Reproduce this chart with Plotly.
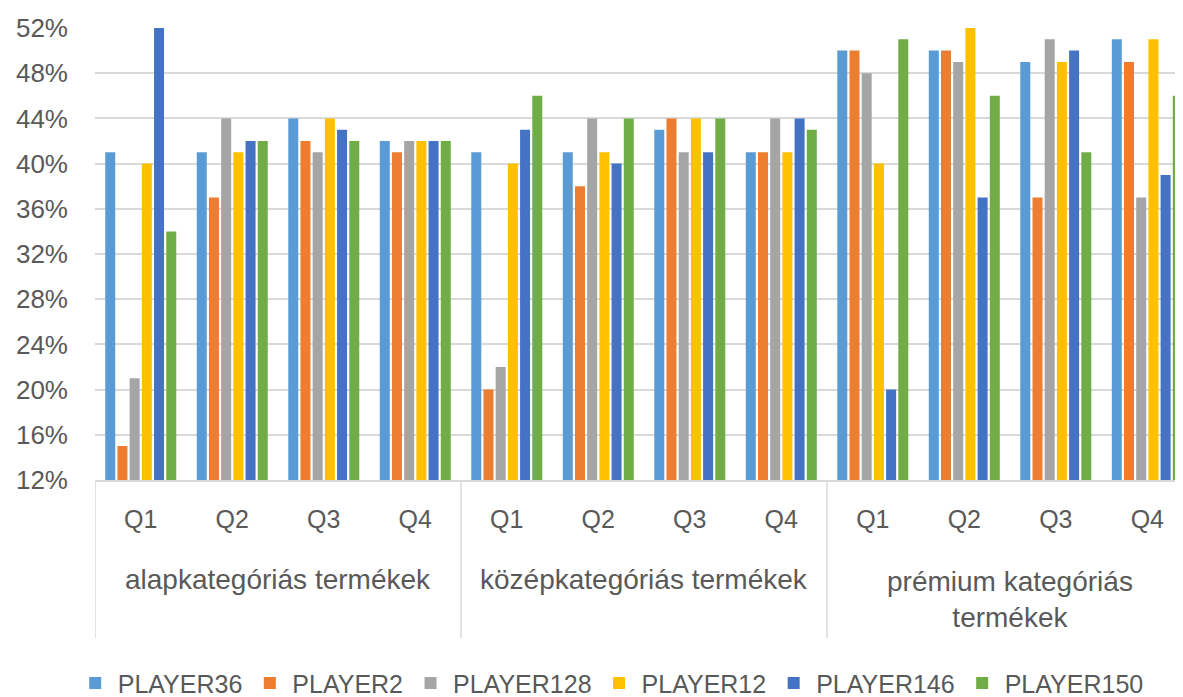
import plotly.graph_objects as go

# ---- data ----
groups = ["alapkategóriás termékek", "középkategóriás termékek", "prémium kategóriás<br>termékek"]
quarters = ["Q1", "Q2", "Q3", "Q4"]
players = ["PLAYER36", "PLAYER2", "PLAYER128", "PLAYER12", "PLAYER146", "PLAYER150"]
colors = ["#5B9BD5", "#ED7D31", "#A5A5A5", "#FFC000", "#4472C4", "#70AD47"]

# values in percent, order: alap Q1..Q4, közép Q1..Q4, prémium Q1..Q4
player36 = [41, 41, 44, 42, 41, 41, 43, 41, 50, 50, 49, 51]
player2 = [15, 37, 42, 41, 20, 38, 44, 41, 50, 50, 37, 49]
player128 = [21, 44, 41, 42, 22, 44, 41, 44, 48, 49, 51, 37]
player12 = [40, 41, 44, 42, 40, 41, 44, 41, 40, 52, 49, 51]
player146 = [52, 42, 43, 42, 43, 40, 41, 44, 20, 37, 50, 39]
player150 = [34, 42, 42, 42, 46, 44, 44, 43, 51, 46, 41, 46]
series = [player36, player2, player128, player12, player146, player150]

y_ticks = [12, 16, 20, 24, 28, 32, 36, 40, 44, 48, 52]

FONT = "Liberation Sans"
TXT = "#595959"
GRID = "#D9D9D9"

n = len(groups) * len(quarters)
xs = list(range(n))
tick_text = [q for _ in groups for q in quarters]

fig = go.Figure()
for name, vals, col in zip(players, series, colors):
    fig.add_trace(go.Bar(
        x=xs, y=[v / 100 for v in vals], name=name,
        marker=dict(color=col, line=dict(width=0)), cliponaxis=True,
    ))

# group dividers and group labels
for gi, g in enumerate(groups):
    x0 = gi * len(quarters) - 0.5
    fig.add_shape(type="line", xref="x", yref="paper", x0=x0, x1=x0, y0=0, y1=-0.35,
                  line=dict(color=GRID, width=1.5))
    fig.add_annotation(x=gi * len(quarters) + 1.5, xref="x", yref="paper",
                       y=-0.221 if "<br>" not in g else -0.265, yanchor="middle",
                       text=g, showarrow=False, font=dict(family=FONT, size=28, color=TXT))
fig.add_shape(type="line", xref="x", yref="paper", x0=n - 0.5, x1=n - 0.5, y0=0, y1=-0.35,
              line=dict(color=GRID, width=1.5))

# the page body has an 8px margin, so the figure is sized/offset to compensate
fig.update_layout(
    width=1175, height=689,
    margin=dict(l=87, r=0, t=20, b=217, autoexpand=False),
    paper_bgcolor="white", plot_bgcolor="white",
    barmode="group", bargap=0.2, bargroupgap=0.18,
    font=dict(family=FONT, color=TXT),
    showlegend=True,
    legend=dict(orientation="h", x=0.474, xanchor="center", yref="container", y=0.02, yanchor="middle",
                font=dict(family=FONT, size=25, color=TXT), itemwidth=35, traceorder="normal"),
    xaxis=dict(range=[-0.5, 11.39], tickvals=xs, ticktext=tick_text, showgrid=False,
               showline=True, linecolor=GRID, linewidth=1.5, ticks="", zeroline=False,
               tickfont=dict(family=FONT, size=25, color=TXT), ticklabelstandoff=16),
    yaxis=dict(range=[0.12, 0.52], tickvals=[t / 100 for t in y_ticks], tickformat=".0%",
               showgrid=True, gridcolor=GRID, gridwidth=1.5, zeroline=False, showline=False,
               ticks="", tickfont=dict(family=FONT, size=26, color=TXT), ticklabelstandoff=26),
)

fig.write_html("out.html")
